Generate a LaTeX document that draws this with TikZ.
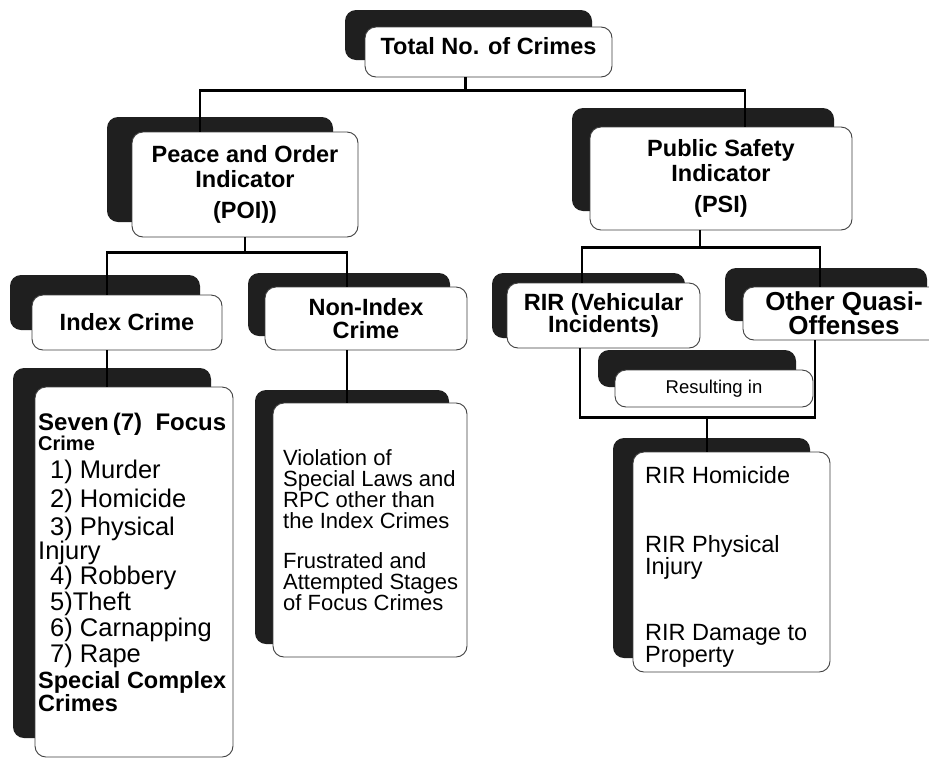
\documentclass[tikz,border=0pt]{standalone}
\usepackage{fontspec}
\setmainfont{Liberation Sans}
\usepackage{tikz}
\usetikzlibrary{shadows}
\usetikzlibrary{positioning,calc}

\newcommand\headfont{\fontsize{23.5}{25}\selectfont\bfseries}

\begin{document}
\begin{tikzpicture}[x=1pt,y=-1pt,
    crime box/.style={draw=black!75,fill=white,rounded corners=11pt,line width=.9pt,
                      inner sep=0pt,align=center,font=\headfont},
    back block/.style 2 args={drop shadow={shadow xshift=#1,shadow yshift=#2,opacity=1,fill=black!88}},
    list text/.style={anchor=north west,inner sep=0pt,align=left},
    link/.style={line width=2.4pt}]

  \clip (0,0) rectangle (929,761);
  \fill[white] (0,0) rectangle (929,761);

  % top level
  \node[crime box,back block={-20pt}{17pt},minimum width=247pt,minimum height=50pt,
        text depth=12pt] (total) at (488.5,52) {Total No. of Crimes};

  % indicators
  \node[crime box,back block={-25pt}{15pt},minimum width=226pt,minimum height=105pt]
        (poi) at (245,184.5) {Peace and Order\\Indicator\\[6pt](POI))};
  \node[crime box,back block={-18pt}{19pt},minimum width=262pt,minimum height=103pt]
        (psi) at (721,178.5) {Public Safety\\Indicator\\[6pt](PSI)};

  % crime groups
  \node[crime box,back block={-22pt}{20pt},minimum width=190pt,minimum height=55pt]
        (index) at (127,322.5) {Index Crime};
  \node[crime box,back block={-17pt}{14pt},minimum width=202pt,minimum height=63pt,
        font=\fontsize{23.5}{23}\selectfont\bfseries] (nonindex) at (366,318.5) {Non-Index\\Crime};
  \node[crime box,back block={-15pt}{10pt},minimum width=193pt,minimum height=65pt,
        font=\fontsize{23.5}{22.5}\selectfont\bfseries] (rir) at (603.5,315.5) {RIR (Vehicular\\Incidents)};
  \node[crime box,back block={-18pt}{19pt},minimum width=202pt,minimum height=53pt,
        font=\fontsize{26}{24}\selectfont\bfseries] (other) at (844,313.5) {Other Quasi-\\Offenses};
  \node[crime box,back block={-17pt}{20pt},minimum width=198pt,minimum height=37pt,
        font=\fontsize{18.5}{20}\selectfont] (result) at (714,388.5) {Resulting in};

  % list boxes
  \node[crime box,back block={-22pt}{19pt},minimum width=198pt,minimum height=370pt] (seven) at (134,572) {};
  \node[crime box,back block={-18pt}{13pt},minimum width=194pt,minimum height=254pt] (violation) at (370,530) {};
  \node[crime box,back block={-20pt}{14pt},minimum width=197pt,minimum height=220pt] (homicide) at (731.5,562) {};

  \node[list text,font=\fontsize{25.5}{24}\selectfont] (seven list) at (38,412.5)
    {{\fontsize{24}{24}\selectfont\bfseries Seven\,(7)\ \ Focus}\\[-4pt]
     {\fontsize{20}{24}\selectfont\bfseries Crime}\\[4pt]
     \hspace*{12pt}1) Murder\\[5pt]
     \hspace*{12pt}2) Homicide\\[4pt]
     \hspace*{12pt}3) Physical\\
     Injury\\[1pt]
     \hspace*{12pt}4) Robbery\\[2pt]
     \hspace*{12pt}5)Theft\\[2pt]
     \hspace*{12pt}6) Carnapping\\[2pt]
     \hspace*{12pt}7) Rape\\[2pt]
     {\fontsize{23.5}{24}\selectfont\bfseries Special Complex}\\[-1pt]
     {\fontsize{23.5}{24}\selectfont\bfseries Crimes}};
  \node[list text,font=\fontsize{22}{21}\selectfont] (violation list) at (283,449)
    {Violation of\\Special Laws and\\RPC other than\\the Index Crimes\\[19pt]
     Frustrated and\\Attempted Stages\\of Focus Crimes};
  \node[list text,font=\fontsize{23.5}{22}\selectfont] (homicide list) at (645,466)
    {RIR Homicide\\[47pt]RIR Physical\\Injury\\[44pt]RIR Damage to\\Property};

  % connectors
  \draw[link] ([xshift=-23pt]total.south) -- ++(0,13) coordinate (tbus);
  \draw[link] ([xshift=-45pt]poi.north) |- (tbus) -| ([xshift=24pt]psi.north);

  \draw[link] (poi.south) -- ++(0,15) coordinate (pbus);
  \draw[link] ([xshift=-20pt]index.north) |- (pbus) -| ([xshift=-19pt]nonindex.north);

  \draw[link] ([xshift=-21pt]psi.south) -- ++(0,17) coordinate (sbus);
  \draw[link] ([xshift=-21.5pt]rir.north) |- (sbus) -| ([xshift=-24pt]other.north);

  \coordinate (ibot) at ([xshift=-20pt]index.south);
  \coordinate (nbot) at ([xshift=-19pt]nonindex.south);
  \draw[link] (ibot) -- (ibot |- seven.north);
  \draw[link] (nbot) -- (nbot |- violation.north);

  \coordinate (hbus) at ($(homicide.north)+(-24.5,-34)$);
  \draw[link] ([xshift=-23.5pt]rir.south) |- (hbus) -| ([xshift=-29pt]other.south);
  \draw[link] (hbus) -- (hbus |- homicide.north);
\end{tikzpicture}
\end{document}
